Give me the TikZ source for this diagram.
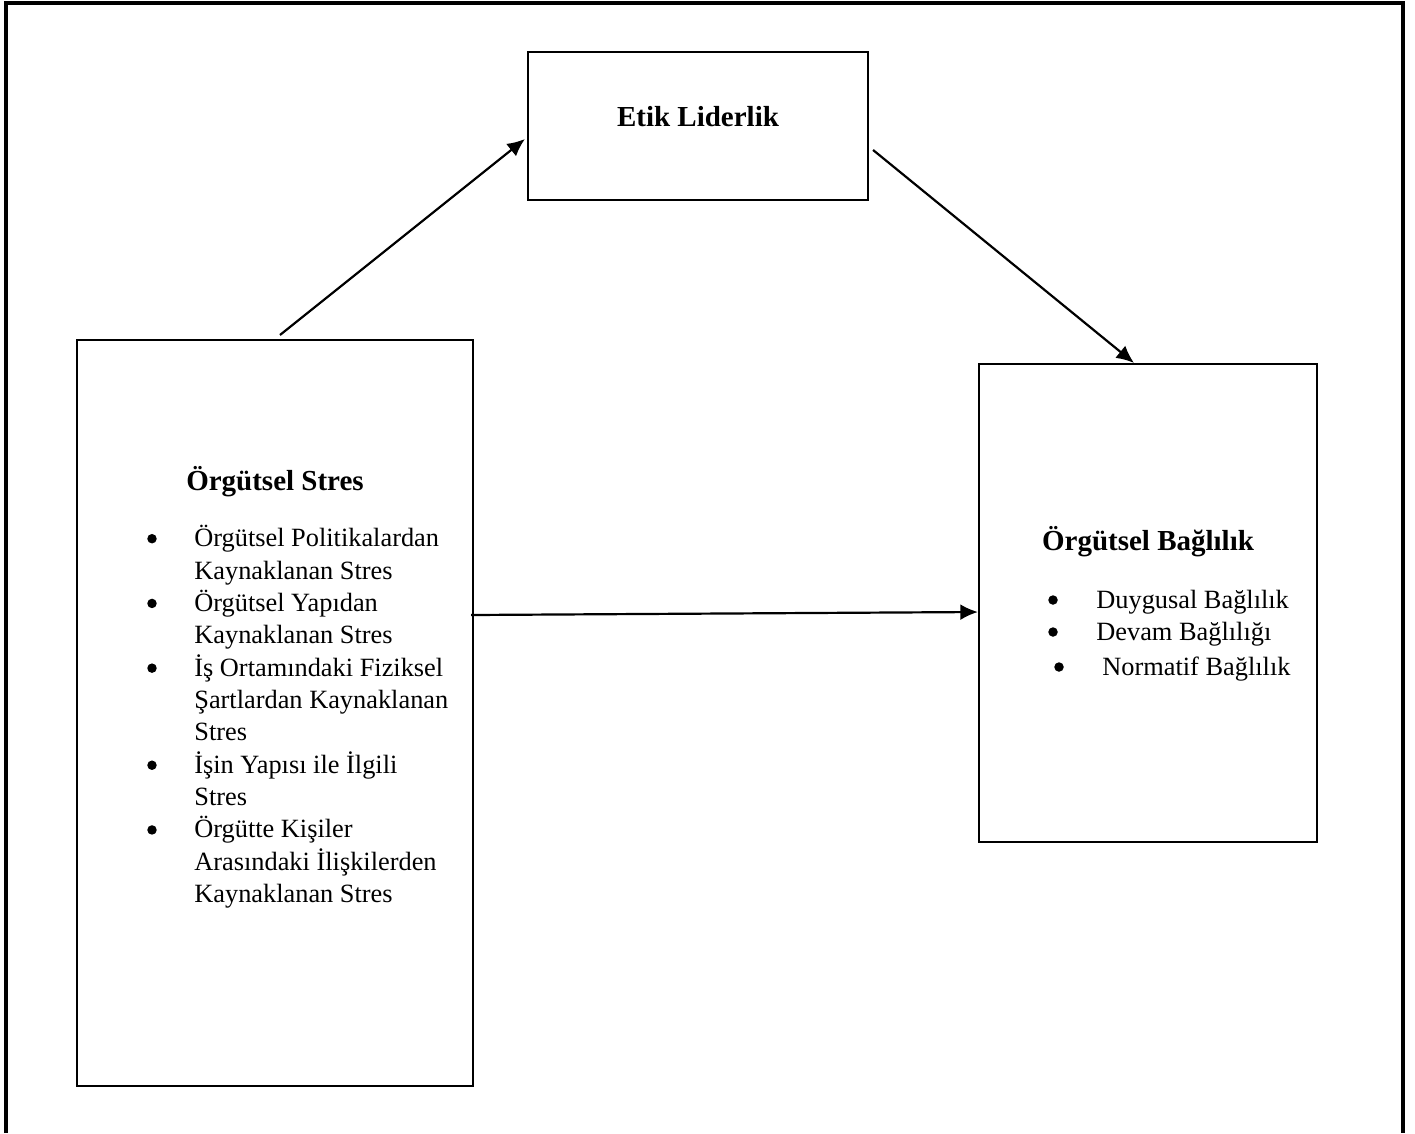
\documentclass[tikz,border=0pt]{standalone}
\usepackage{fontspec}
\setmainfont{Liberation Serif}
\usetikzlibrary{arrows.meta, math}

\tikzset{
  box/.style={draw, line width=1.25pt, inner sep=0pt},
  txt/.style={inner sep=0pt, font=\fontsize{15}{18}\selectfont},
  head/.style={inner sep=0pt, font=\fontsize{16.5}{20}\selectfont\bfseries},
  dot/.style={circle, fill, inner sep=0pt, minimum size=5.4pt},
  arr/.style={-{Latex[length=10pt,width=9pt]}, line width=1.25pt},
}

\begin{document}
\begin{tikzpicture}[x=0.02cm, y=-0.02cm]
\tikzmath{
\lh=32.36;
\sy=546.7;
}
\useasboundingbox (0,0) rectangle (1415,1133);
\draw[line width=1.8pt] (6,1133) -- (6,3) -- (1403,3) -- (1403,1133);

% boxes
\node[box, minimum width=6.8cm, minimum height=2.96cm] (etik) at (698,126) {};
\node[box, minimum width=7.92cm, minimum height=14.92cm] (stres) at (275,713) {};
\node[box, minimum width=6.76cm, minimum height=9.56cm] (bag) at (1148,603) {};

% titles
\node[head, anchor=base] (etikt) at (698,126) {Etik Liderlik};
\node[head, anchor=base] (strest) at (275,490) {Örgütsel Stres};
\node[head, anchor=base] (bagt) at (1148,550) {Örgütsel Bağlılık};

% stres items
\foreach \t [count=\i] in {Örgütsel Politikalardan, Kaynaklanan Stres, Örgütsel Yapıdan, Kaynaklanan Stres, İş Ortamındaki Fiziksel, Şartlardan Kaynaklanan, Stres, İşin Yapısı ile İlgili, Stres, Örgütte Kişiler, Arasındaki İlişkilerden, Kaynaklanan Stres}{
  \node[txt, anchor=base west] (s\i) at (194,\sy+\lh*\i-\lh) {\t};
}
\foreach \i in {1,3,5,8,10}{
  \node[dot] (sb\i) at (152,\sy+\lh*\i-\lh-8) {};
}

% bag items
\node[txt, anchor=base west] (r1) at (1096,608) {Duygusal Bağlılık};
\node[txt, anchor=base west] (r2) at (1096,640) {Devam Bağlılığı};
\node[txt, anchor=base west] (r3) at (1102,675) {Normatif Bağlılık};
\node[dot] (rb1) at (1053,600) {};
\node[dot] (rb2) at (1053,632) {};
\node[dot] (rb3) at (1059,667) {};

% arrows
\draw[arr] ([shift={(5,-4)}]stres.north) -- ([shift={(-2,13)}]etik.west);
\draw[arr] ([shift={(4,24)}]etik.east) -- ([shift={(-14,0)}]bag.north);
\draw[arr] ([shift={(-3,-98)}]stres.east) -- ([shift={(0,9)}]bag.west);
\end{tikzpicture}
\end{document}
